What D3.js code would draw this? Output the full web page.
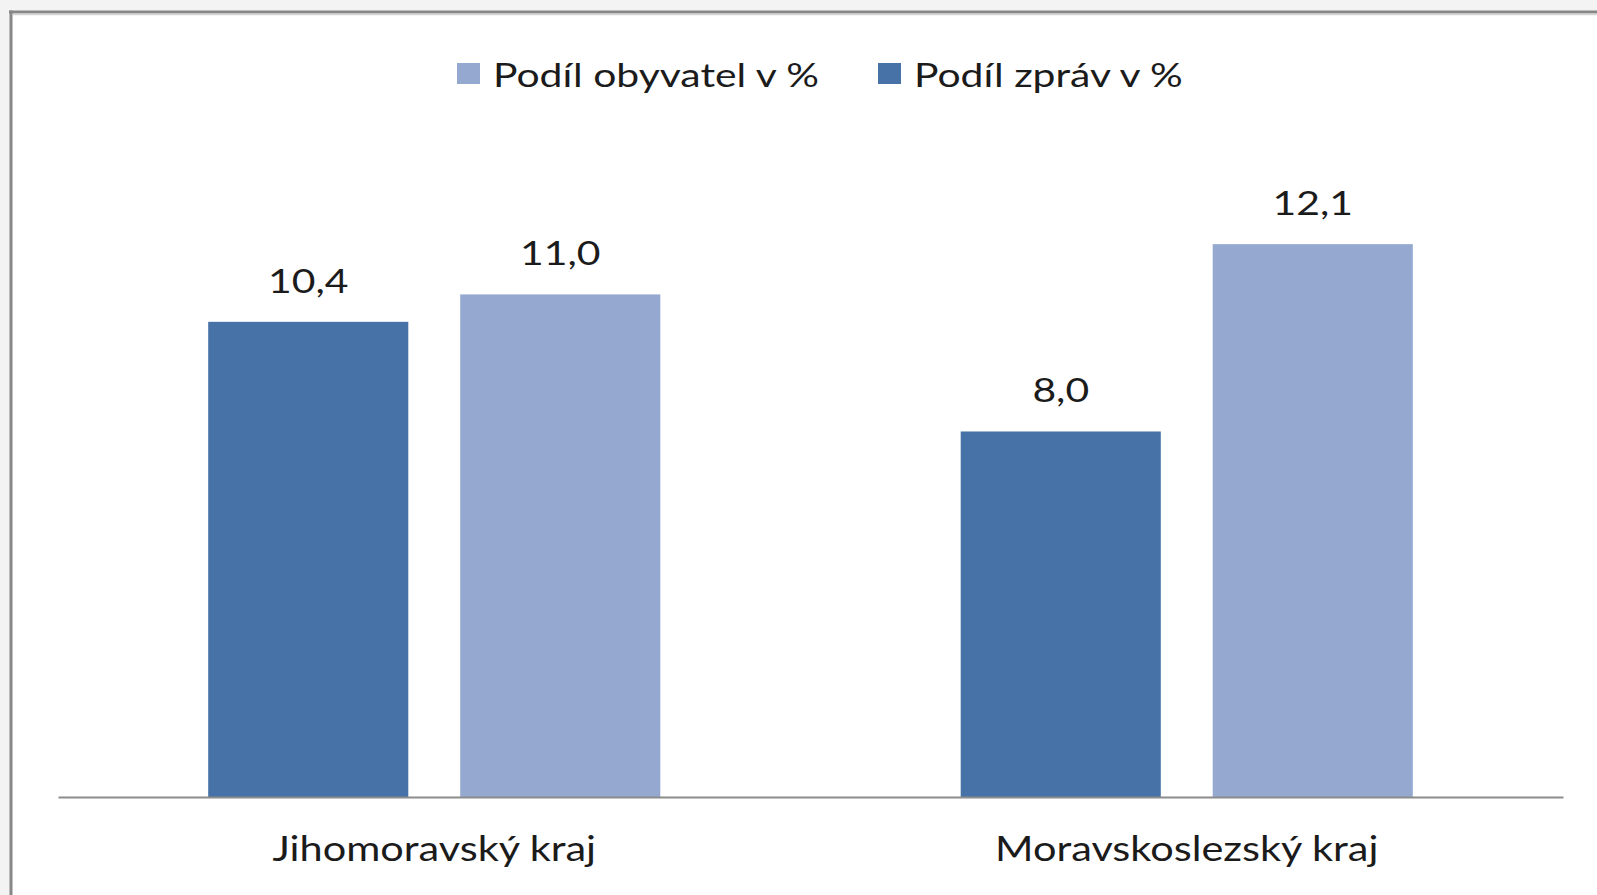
<!DOCTYPE html>
<html lang="cs">
<head>
<meta charset="utf-8">
<style>
  html, body { margin: 0; padding: 0; background: #f3f3f3; }
  svg { display: block; }
  text { font-family: Lato, "Open Sans", sans-serif; fill: #1b1b1b; }
</style>
</head>
<body>
<script src="https://d3js.org/d3.v7.min.js"></script>
<script>
  var width = 1597, height = 895;

  // data
  var categories = ['Jihomoravský kraj', 'Moravskoslezský kraj'];
  var seriesNames = ['Podíl zpráv v %', 'Podíl obyvatel v %'];
  var zpravy = [10.4, 8.0];
  var obyvatele = [11.0, 12.1];
  var legendOrder = ['Podíl obyvatel v %', 'Podíl zpráv v %'];

  var colors = { 'Podíl zpráv v %': '#4672a7', 'Podíl obyvatel v %': '#95a9d0' };

  var rows = categories.map(function (c, i) {
    return { cat: c, values: [
      { key: seriesNames[0], value: zpravy[i] },
      { key: seriesNames[1], value: obyvatele[i] }
    ] };
  });

  // the original font is wider than Lato, so stretch text a bit
  var stretch = 1.22;
  function place(x, y) { return 'translate(' + x + ',' + y + ') scale(' + stretch + ',1)'; }

  var svg = d3.select('body').append('svg').attr('width', width).attr('height', height);

  // white chart area with the gray frame on top and left
  svg.append('rect').attr('x', 11).attr('y', 11).attr('width', width).attr('height', height)
    .attr('fill', '#ffffff');
  svg.append('line').attr('x1', 9).attr('x2', width).attr('y1', 12).attr('y2', 12)
    .attr('stroke', '#878787').attr('stroke-width', 3);
  svg.append('line').attr('x1', 13).attr('x2', width).attr('y1', 14.5).attr('y2', 14.5)
    .attr('stroke', '#d4d4d4').attr('stroke-width', 1.5);
  svg.append('line').attr('x1', 11).attr('x2', 11).attr('y1', 10.5).attr('y2', height)
    .attr('stroke', '#878787').attr('stroke-width', 3);

  var left = 58, right = 1563, base = 797;

  var x0 = d3.scaleBand().domain(categories).range([left, right]).padding(0);
  var x1 = d3.scaleBand().domain(seriesNames).range([0, x0.bandwidth()])
    .paddingInner(0.206).paddingOuter(0.596);
  var y = d3.scaleLinear().domain([0, 14]).range([base, base - 14 * 45.69]);

  var groups = svg.selectAll('g.grp').data(rows).join('g')
    .attr('class', 'grp')
    .attr('transform', function (d) { return 'translate(' + x0(d.cat) + ',0)'; });

  groups.selectAll('rect').data(function (d) { return d.values; }).join('rect')
    .attr('x', function (d) { return x1(d.key); })
    .attr('y', function (d) { return y(d.value); })
    .attr('width', x1.bandwidth())
    .attr('height', function (d) { return base - y(d.value); })
    .attr('fill', function (d) { return colors[d.key]; });

  groups.selectAll('text.val').data(function (d) { return d.values; }).join('text')
    .attr('class', 'val')
    .attr('transform', function (d) {
      return place(x1(d.key) + x1.bandwidth() / 2, y(d.value) - 29);
    })
    .attr('text-anchor', 'middle')
    .style('font-size', '33.5px')
    .text(function (d) { return d.value.toFixed(1).replace('.', ','); });

  // category axis
  var xAxis = d3.axisBottom(x0).tickSize(0).tickPadding(0);
  var ax = svg.append('g').attr('transform', 'translate(0,' + base + ')').call(xAxis);
  ax.select('.domain').attr('stroke', '#8c8c8c').attr('stroke-width', 2);
  ax.selectAll('text')
    .attr('y', 0)
    .attr('dy', null)
    .attr('transform', place(0, 64))
    .style('font-size', '34px')
    .style('font-family', 'Lato, sans-serif')
    .attr('fill', '#1b1b1b');

  // legend
  var legendX = [457, 878];
  var lg = svg.selectAll('g.leg').data(legendOrder).join('g')
    .attr('class', 'leg')
    .attr('transform', function (d, i) { return 'translate(' + legendX[i] + ',63)'; });
  lg.append('rect').attr('width', 23).attr('height', 21)
    .attr('fill', function (d) { return colors[d]; });
  lg.append('text').attr('transform', place(36, 23.5))
    .style('font-size', '33.5px')
    .text(function (d) { return d; });
</script>
</body>
</html>
